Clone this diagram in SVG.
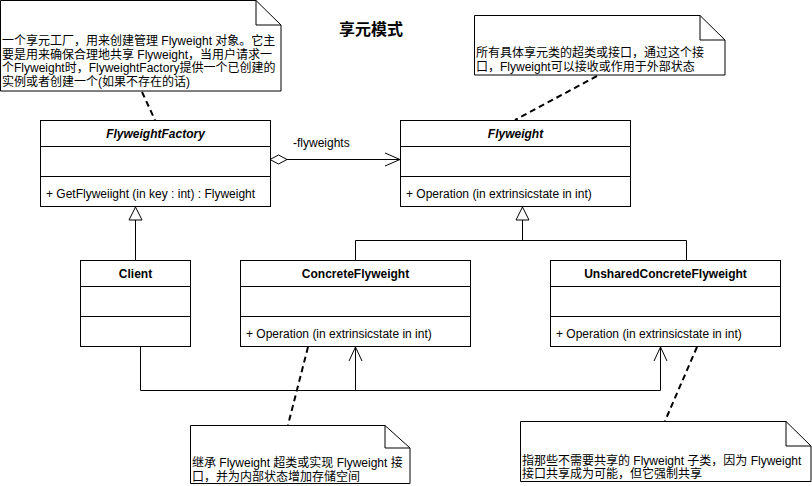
<svg xmlns="http://www.w3.org/2000/svg" width="812" height="486" viewBox="0 0 812 486">
<style>
text{font-family:"Liberation Sans","Noto Sans CJK SC",sans-serif;font-size:12px;fill:#000}
.b{font-weight:bold}
.bi{font-weight:bold;font-style:italic}
.t{font-size:16px;font-weight:bold}
.box{fill:#fff;stroke:#000;stroke-width:1}
.ln{fill:none;stroke:#000;stroke-width:1}
.note{fill:#fff;stroke:#000;stroke-width:1}
.dash{fill:none;stroke:#000;stroke-width:2;stroke-dasharray:6 4}
</style>
<rect width="812" height="486" fill="#fff"/>
<text class="t" x="371" y="35" text-anchor="middle">享元模式</text>

<g id="connectors">
  <path class="dash" d="M142,92 L155,120"/>
  <path class="dash" d="M597,76 L515,120"/>
  <path class="dash" d="M308,347 L288,425"/>
  <path class="dash" d="M697,347 L665,421"/>
  <!-- association -->
  <path class="ln" d="M287,159.5 H400"/>
  <path class="ln" d="M270,159.5 L278.5,155 L287,159.5 L278.5,164 Z" fill="#fff"/>
  <path class="ln" d="M385,153 L400,159.5 L385,166"/>
  <text x="293" y="147">-flyweights</text>
  <!-- Client -> FlyweightFactory -->
  <path class="ln" d="M135.5,220 V260"/>
  <path class="ln" d="M135.5,207 L142,220 H129 Z" fill="#fff"/>
  <!-- subclasses -> Flyweight -->
  <path class="ln" d="M522.5,220 V240.5 M355.5,260 V240.5 H686.5 V260"/>
  <path class="ln" d="M522.5,207 L529,220 H516 Z" fill="#fff"/>
  <!-- Client -> concrete -->
  <path class="ln" d="M140.5,346 V390.5 H660.5 V347 M355.5,390.5 V347"/>
  <path class="ln" d="M349,361 L355.5,347 L362,361 M654,361 L660.5,347 L667,361"/>
</g>

<g id="note1">
  <path class="note" d="M0.5,0.5 H256 L281,25 V91 H0.5 Z"/>
  <path class="ln" d="M256,0.5 V25 H281"/>
  <text x="2" y="45">一个享元工厂，用来创建管理 Flyweight 对象。它主</text>
  <text x="2" y="58.5">要是用来确保合理地共享 Flyweight，当用户请求一</text>
  <text x="2" y="72">个Flyweight时，FlyweightFactory提供一个已创建的</text>
  <text x="2" y="85.5">实例或者创建一个(如果不存在的话)</text>
</g>

<g id="note2">
  <path class="note" d="M474.5,15.5 H700 L725,40 V75 H474.5 Z"/>
  <path class="ln" d="M700,15.5 V40 H725"/>
  <text x="476" y="57">所有具体享元类的超类或接口，通过这个接</text>
  <text x="476" y="71">口，Flyweight可以接收或作用于外部状态</text>
</g>

<g id="FlyweightFactory">
  <rect class="box" x="40.5" y="120.5" width="230" height="86"/>
  <path class="ln" d="M40.5,146.5 H270.5 M40.5,176.5 H270.5"/>
  <text class="bi" x="155.5" y="138" text-anchor="middle">FlyweightFactory</text>
  <text x="46" y="198">+ GetFlyweiight (in key : int) : Flyweight</text>
</g>

<g id="Flyweight">
  <rect class="box" x="400.5" y="120.5" width="230" height="86"/>
  <path class="ln" d="M400.5,146.5 H630.5 M400.5,176.5 H630.5"/>
  <text class="bi" x="515.5" y="138" text-anchor="middle">Flyweight</text>
  <text x="406" y="198">+ Operation (in extrinsicstate in int)</text>
</g>

<g id="Client">
  <rect class="box" x="80.5" y="260.5" width="110" height="86"/>
  <path class="ln" d="M80.5,286.5 H190.5 M80.5,316.5 H190.5"/>
  <text class="b" x="135.5" y="278" text-anchor="middle">Client</text>
</g>

<g id="ConcreteFlyweight">
  <rect class="box" x="240.5" y="260.5" width="230" height="86"/>
  <path class="ln" d="M240.5,286.5 H470.5 M240.5,316.5 H470.5"/>
  <text class="b" x="355.5" y="278" text-anchor="middle">ConcreteFlyweight</text>
  <text x="246" y="338">+ Operation (in extrinsicstate in int)</text>
</g>

<g id="UnsharedConcreteFlyweight">
  <rect class="box" x="550.5" y="260.5" width="230" height="86"/>
  <path class="ln" d="M550.5,286.5 H780.5 M550.5,316.5 H780.5"/>
  <text class="b" x="665.5" y="278" text-anchor="middle">UnsharedConcreteFlyweight</text>
  <text x="556" y="338">+ Operation (in extrinsicstate in int)</text>
</g>

<g id="note3">
  <path class="note" d="M190.5,425.5 H385 L410,448 V483.5 H190.5 Z"/>
  <path class="ln" d="M385,425.5 V448 H410"/>
  <text x="192" y="467">继承 Flyweight 超类或实现 Flyweight 接</text>
  <text x="192" y="481">口，并为内部状态增加存储空间</text>
</g>

<g id="note4">
  <path class="note" d="M520.5,421.5 H786 L811,446 V481.5 H520.5 Z"/>
  <path class="ln" d="M786,421.5 V446 H811"/>
  <text x="522" y="464.5">指那些不需要共享的 Flyweight 子类，因为 Flyweight</text>
  <text x="522" y="478">接口共享成为可能，但它强制共享</text>
</g>
</svg>
